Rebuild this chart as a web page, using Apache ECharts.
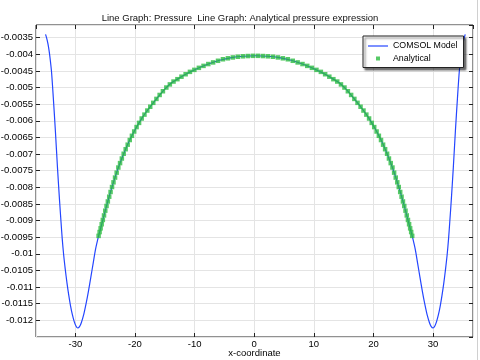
<!DOCTYPE html>
<html>
<head>
<meta charset="utf-8">
<script src="https://cdn.jsdelivr.net/npm/echarts@6/dist/echarts.min.js"></script>
<style>html,body{margin:0;padding:0;background:#fff}#c{width:480px;height:360px}</style>
</head>
<body>
<div id="c"></div>
<script>
// ---- Data ----
var titleText = 'Line Graph: Pressure  Line Graph: Analytical pressure expression';
var xAxisName = 'x-coordinate';
var seriesNames = ['COMSOL Model', 'Analytical'];

var modelX = [
  -35.0, -34.8, -34.6, -34.4, -34.2, -34.0, -33.7, -33.35, -33.0, -32.65, -32.4, -32.2, -31.95, -31.7, -31.4, -31.1, -30.8, -30.5, -30.2, -29.9,
  -29.6, -29.3, -29.0, -28.6, -28.2, -27.8, -27.4, -27.0, -26.6, -26.1,
  -25.8, -25.3, -24.8, -24.3, -23.8, -23.3, -22.8, -21.8, -20.8, -19.8, -18.8, -17.8, -16.8, -15.8, -14.8, -13.8, -12.8, -11.8, -9.8, -7.8, -5.8, -3.8, -1.8, 0.2,
  2.2, 4.2, 6.2, 8.2, 10.2, 12.2, 13.2, 14.2, 15.2, 16.2, 17.2, 18.2, 19.2, 20.2, 21.2, 22.2, 23.2, 23.7, 24.2, 24.7, 25.2, 25.7, 26.2,
  26.5, 27.0, 27.4, 27.8, 28.2, 28.6, 29.0, 29.4, 29.7, 30.0, 30.3, 30.6, 30.9, 31.2, 31.5, 31.8, 32.1, 32.35, 32.6, 32.8, 33.05, 33.4, 33.75, 34.1, 34.4, 34.6, 34.8, 35.0, 35.2, 35.4
];
var modelY = [
  -0.00340, -0.00352, -0.00368, -0.00390, -0.00418, -0.00452, -0.00530, -0.00630, -0.00740, -0.00840, -0.00905, -0.00955, -0.01005, -0.01045, -0.01088, -0.01125, -0.01157, -0.01183, -0.01203, -0.01217,
  -0.01223, -0.01219, -0.01207, -0.01183, -0.01150, -0.01112, -0.01070, -0.01027, -0.00985, -0.00946,
  -0.00926, -0.00892, -0.00858, -0.00826, -0.00796, -0.00768, -0.00741, -0.00695, -0.00655, -0.00621, -0.00591, -0.00566, -0.00543, -0.00521, -0.00501, -0.00485, -0.00474, -0.00463, -0.00445, -0.00430, -0.00418, -0.00410, -0.00406, -0.004045,
  -0.00406, -0.00410, -0.00418, -0.00430, -0.00445, -0.00463, -0.00474, -0.00485, -0.00501, -0.00521, -0.00543, -0.00566, -0.00591, -0.00621, -0.00655, -0.00695, -0.00741, -0.00768, -0.00796, -0.00826, -0.00858, -0.00892, -0.00926,
  -0.00946, -0.00985, -0.01027, -0.01070, -0.01112, -0.01150, -0.01183, -0.01207, -0.01219, -0.01223, -0.01217, -0.01203, -0.01183, -0.01157, -0.01125, -0.01088, -0.01045, -0.01005, -0.00955, -0.00905, -0.00840, -0.00740, -0.00630, -0.00530, -0.00452, -0.00418, -0.00390, -0.00368, -0.00352, -0.00340
];

var analyticalX = [
  -26.10, -25.93, -25.76, -25.58, -25.39, -25.19, -24.98, -24.77, -24.55, -24.32, -24.09, -23.85, -23.60, -23.34, -23.07, -22.79, -22.50, -22.20, -21.89, -21.56,
  -21.22, -20.87, -20.51, -20.13, -19.73, -19.31, -18.87, -18.41, -17.93, -17.44, -16.93, -16.40, -15.86, -15.31, -14.74, -14.15, -13.53, -12.88, -12.20, -11.50,
  -10.78, -10.04, -9.28, -8.50, -7.70, -6.89, -6.07, -5.24, -4.41, -3.58, -2.74, -1.90, -1.06, -0.22,
  0.62, 1.46, 2.30, 3.14, 3.98, 4.81, 5.64, 6.47, 7.29, 8.10, 8.90, 9.68, 10.44, 11.18, 11.90, 12.60, 13.28, 13.93, 14.55, 15.14,
  15.71, 16.26, 16.80, 17.33, 17.84, 18.33, 18.81, 19.27, 19.71, 20.13, 20.53, 20.91, 21.27, 21.62, 21.96, 22.29, 22.60, 22.90, 23.19, 23.47,
  23.74, 24.00, 24.25, 24.49, 24.72, 24.95, 25.17, 25.38, 25.59, 25.79, 25.98, 26.16, 26.33, 26.50
];
var analyticalY = [
  -0.00946, -0.009345, -0.009233, -0.00911, -0.008981, -0.008845, -0.008702, -0.008561, -0.008425, -0.008282, -0.00814, -0.007991, -0.00785, -0.007707, -0.007559, -0.007405, -0.007272, -0.007134, -0.006991, -0.006854,
  -0.006718, -0.006578, -0.006451, -0.006322, -0.006189, -0.006063, -0.005931, -0.005814, -0.005692, -0.005577, -0.00546, -0.005342, -0.005223, -0.005112, -0.005, -0.004906, -0.00482, -0.004749, -0.004674, -0.0046,
  -0.004529, -0.004469, -0.004408, -0.004349, -0.004294, -0.004245, -0.004196, -0.00415, -0.004121, -0.004095, -0.004074, -0.004061, -0.004053, -0.004047,
  -0.004047, -0.004053, -0.004061, -0.004074, -0.004095, -0.004121, -0.00415, -0.004196, -0.004245, -0.004294, -0.004349, -0.004408, -0.004469, -0.004529, -0.0046, -0.004674, -0.004749, -0.00482, -0.004906, -0.005,
  -0.005112, -0.005223, -0.005342, -0.00546, -0.005577, -0.005692, -0.005814, -0.005931, -0.006063, -0.006189, -0.006322, -0.006451, -0.006578, -0.006718, -0.006854, -0.006991, -0.007134, -0.007272, -0.007405, -0.007559,
  -0.007707, -0.00785, -0.007991, -0.00814, -0.008282, -0.008425, -0.008561, -0.008702, -0.008845, -0.008981, -0.00911, -0.009233, -0.009345, -0.00946
];

var xRange = [-36.6, 36.7];
var yRange = [-0.0125, -0.00312];
var yStep = 0.0005;

// ---- Build chart ----
function zip(a, b) { var r = []; for (var i = 0; i < a.length; i++) r.push([a[i], b[i]]); return r; }

var FONT = 'Liberation Sans';
var BLUE = '#2446ff';
var GREEN = '#2cbb40';
var chart = echarts.init(document.getElementById('c'), null, { renderer: 'canvas' });
var gridLine = { show: true, lineStyle: { color: '#e4e4e4', width: 1 } };
var tickStyle = { show: true, inside: true, length: 4, lineStyle: { color: '#222', width: 1 } };
var noLine = { show: false, onZero: false };

chart.setOption({
  animation: false,
  backgroundColor: '#fff',
  title: {
    text: titleText, left: 'center', top: 8,
    textStyle: { fontFamily: FONT, fontSize: 9.5, fontWeight: 'normal', color: '#111' }
  },
  graphic: [{
    type: 'line', shape: { x1: 477.5, y1: 0, x2: 477.5, y2: 360 },
    style: { stroke: '#d0d0d0', lineWidth: 1 }, silent: true
  }],
  grid: {
    left: 36, right: 7, top: 25, bottom: 23, show: true, borderColor: '#222', borderWidth: 1, backgroundColor: '#fff',
    containLabel: false, outerBoundsMode: 'none'
  },
  legend: {
    left: 363, top: 36, orient: 'vertical',
    padding: [5, 6, 4, 5],
    itemWidth: 20, itemHeight: 10, itemGap: 2.5,
    backgroundColor: '#fff', borderColor: '#222', borderWidth: 1,
    shadowColor: 'rgba(0,0,0,0.55)', shadowBlur: 2, shadowOffsetX: 2, shadowOffsetY: 2,
    symbolKeepAspect: true,
    textStyle: { fontFamily: FONT, fontSize: 8.8, color: '#000', lineHeight: 10 },
    data: [
      { name: seriesNames[0], icon: 'path://M0,0H20V1.2H0Z', itemStyle: { color: BLUE } },
      { name: seriesNames[1], icon: 'path://M0,0M20,20M6,6h8v8h-8z' }
    ]
  },
  xAxis: [{
    type: 'value', min: xRange[0], max: xRange[1], splitNumber: 7,
    name: xAxisName, nameLocation: 'middle', nameGap: 11, nameMoveOverlap: false,
    nameTextStyle: { fontFamily: FONT, fontSize: 9.5, color: '#000' },
    axisLine: noLine, axisTick: tickStyle, splitLine: gridLine,
    axisLabel: { fontFamily: FONT, fontSize: 9.5, color: '#000', margin: 2, showMinLabel: false, showMaxLabel: false }
  }, {
    type: 'value', position: 'top', min: xRange[0], max: xRange[1], splitNumber: 7,
    axisLine: noLine, axisTick: tickStyle, splitLine: { show: false }, axisLabel: { show: false }
  }],
  yAxis: [{
    type: 'value', min: yRange[0], max: yRange[1], interval: yStep,
    axisLine: noLine, axisTick: tickStyle, splitLine: gridLine,
    axisLabel: { fontFamily: FONT, fontSize: 9.5, color: '#000', margin: 3, showMinLabel: false, showMaxLabel: false }
  }, {
    type: 'value', position: 'right', min: yRange[0], max: yRange[1], interval: yStep,
    axisLine: noLine, axisTick: tickStyle, splitLine: { show: false }, axisLabel: { show: false }
  }],
  series: [{
    name: seriesNames[0], type: 'line', data: zip(modelX, modelY),
    symbol: 'none', showSymbol: false, smooth: 0.3,
    lineStyle: { color: BLUE, width: 1.2 }, itemStyle: { color: BLUE }, z: 2
  }, {
    name: seriesNames[1], type: 'scatter', data: zip(analyticalX, analyticalY),
    symbol: 'rect', symbolSize: 4.5, symbolKeepAspect: true,
    itemStyle: { color: GREEN }, z: 3
  }]
});
</script>
</body>
</html>
